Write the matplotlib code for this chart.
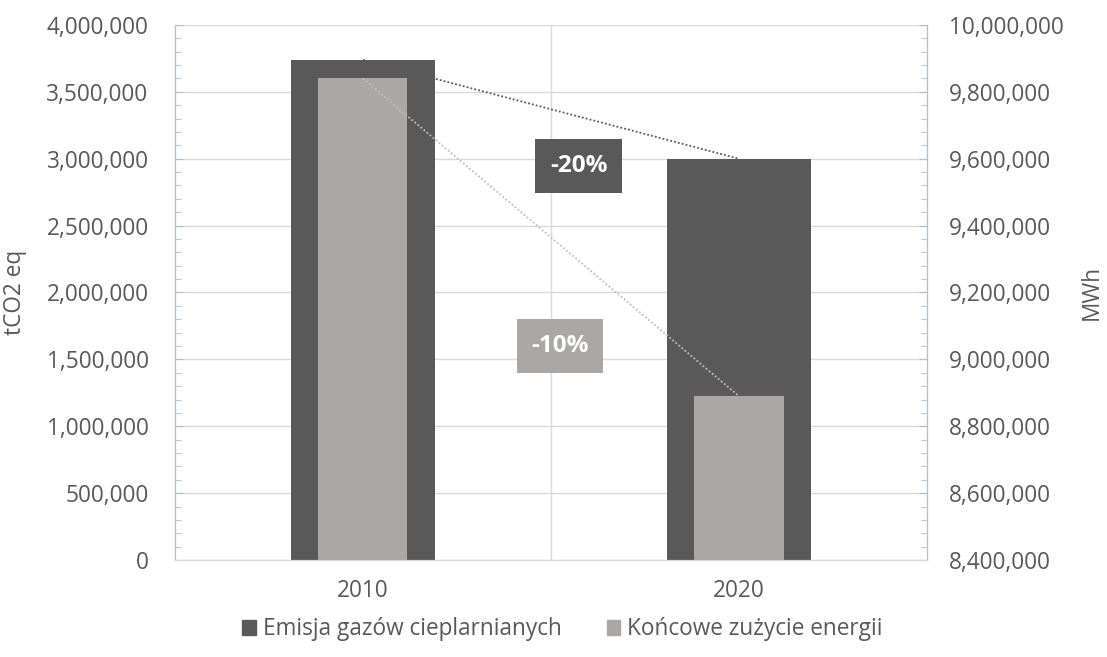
import numpy as np
import matplotlib
matplotlib.use("Agg")
import matplotlib.pyplot as plt
from matplotlib.ticker import FuncFormatter, MultipleLocator
from matplotlib.patches import Patch

plt.rcParams['font.family'] = ['Open Sans', 'DejaVu Sans']

categories = ['2010', '2020']
emisja = [3740000, 3000000]          # tCO2 eq (left axis)
zuzycie = [9840000, 8890000]         # MWh (right axis)
series_names = ['Emisja gazów cieplarnianych', 'Końcowe zużycie energii']
change_labels = ['-20%', '-10%']

DARK = '#595959'
LIGHT = '#aaa7a5'
TXT = '#595959'
GRID = '#d9d9d9'
SPINE = '#9dc3e6'

fig = plt.figure(figsize=(11.07, 6.57), dpi=100)
ax = fig.add_axes([0.158, 0.1476, 0.6794, 0.8144])
ax2 = ax.twinx()

x = np.arange(len(categories))
ax.bar(x, emisja, width=0.385, color=DARK, zorder=2)
ax2.bar(x, zuzycie, width=0.237, color=LIGHT, zorder=2)

# dotted trend lines between bar tops
ax2.plot(x, emisja, transform=ax.transData, linestyle=(0, (1, 1.2)), color='#595959', lw=1.3, zorder=5)
ax2.plot(x, zuzycie, linestyle=(0, (1, 1.2)), color='#bfbfbf', lw=1.3, zorder=5)

ax.set_xlim(-0.5, 1.5)
ax.set_ylim(0, 4000000)
ax2.set_ylim(8400000, 10000000)

fmt = FuncFormatter(lambda v, p: f"{v:,.0f}")
ax.yaxis.set_major_locator(MultipleLocator(500000))
ax.yaxis.set_minor_locator(MultipleLocator(100000))
ax.yaxis.set_major_formatter(fmt)
ax2.yaxis.set_major_locator(MultipleLocator(200000))
ax2.yaxis.set_minor_locator(MultipleLocator(40000))
ax2.yaxis.set_major_formatter(fmt)

ax.set_xticks(x)
ax.set_xticklabels(categories)

ax.grid(axis='y', color=GRID, lw=1.0, zorder=0)
ax.set_axisbelow(True)
ax.axvline(0.5, color=GRID, lw=1.0, zorder=0)

for a in (ax, ax2):
    a.spines['top'].set_visible(False)
    a.spines['bottom'].set_color(GRID)
    a.spines['left'].set_color(SPINE)
    a.spines['right'].set_color(SPINE)

FS = 16.3
ax.tick_params(axis='y', which='both', direction='in', color=SPINE, labelcolor=TXT,
               labelsize=FS, pad=19)
ax.tick_params(axis='y', which='major', length=6)
ax.tick_params(axis='y', which='minor', length=4)
ax2.tick_params(axis='y', which='both', direction='in', color=SPINE, labelcolor=TXT,
                labelsize=FS, pad=15.5)
ax2.tick_params(axis='y', which='major', length=6)
ax2.tick_params(axis='y', which='minor', length=4)
ax.tick_params(axis='x', length=0, labelcolor=TXT, labelsize=FS, pad=14)

ax.set_ylabel('tCO2 eq', color=TXT, fontsize=FS, labelpad=14)
ax2.set_ylabel('MWh', color=TXT, fontsize=FS, labelpad=12)

# change labels
ax2.text(0.574, 2946000, change_labels[0], transform=ax.transData, ha='center', va='center',
         color='white', fontsize=17.5, fontweight='bold', zorder=6,
         bbox=dict(boxstyle='square,pad=0.6', fc=DARK, ec='none'))
ax2.text(0.524, 1600000, change_labels[1], transform=ax.transData, ha='center', va='center',
         color='white', fontsize=17.5, fontweight='bold', zorder=6,
         bbox=dict(boxstyle='square,pad=0.6', fc=LIGHT, ec='none'))

handles = [Patch(color=DARK), Patch(color=LIGHT)]
fig.legend(handles, series_names, loc='center', bbox_to_anchor=(0.508, 0.042), ncol=2,
           frameon=False, fontsize=FS, handlelength=0.6, handleheight=0.6,
           handletextpad=0.3, columnspacing=2.0, labelcolor=TXT)

fig.savefig('out.png', dpi=100)
